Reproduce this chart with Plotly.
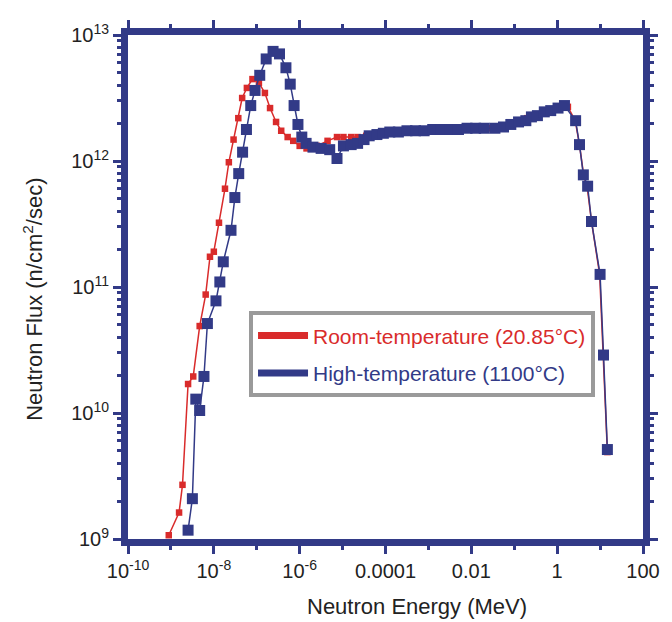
import plotly.graph_objects as go

# ---- data (log10 values) ----
room_log_energy = [-9.05, -8.81, -8.73, -8.60, -8.48, -8.33, -8.19, -8.09, -8.00, -7.88,
                   -7.74, -7.65, -7.54, -7.43, -7.34, -7.23, -7.10, -6.95, -6.81, -6.69,
                   -6.55, -6.43, -6.28, -6.15, -6.00, -5.84, -5.60, -5.35, -5.13, -4.98,
                   -4.80, -4.65, -4.45, -4.25, -4.05, -3.80, -3.55, -3.30, -3.05, -2.80,
                   -2.55, -2.30, -2.05, -1.80, -1.55, -1.30, -1.10, -0.90, -0.70, -0.50,
                   -0.30, -0.10, 0.10, 0.25, 0.42, 0.52, 0.62, 0.70, 0.80, 0.99,
                   1.07, 1.17]
room_log_flux = [9.03, 9.21, 9.43, 10.23, 10.29, 10.69, 10.94, 11.24, 11.28, 11.51,
                 11.78, 11.99, 12.17, 12.34, 12.50, 12.58, 12.65, 12.62, 12.54, 12.42,
                 12.31, 12.24, 12.19, 12.16, 12.12, 12.10, 12.12, 12.16, 12.19, 12.19,
                 12.19, 12.19, 12.20, 12.21, 12.22, 12.23, 12.24, 12.24, 12.24, 12.25,
                 12.25, 12.25, 12.26, 12.26, 12.26, 12.27, 12.28, 12.31, 12.34, 12.36,
                 12.39, 12.41, 12.43, 12.43, 12.32, 12.13, 11.88, 11.79, 11.52, 11.10,
                 10.46, 9.69]

high_log_energy = [-8.60, -8.50, -8.42, -8.33, -8.23, -8.15, -7.95, -7.86, -7.78, -7.60,
                   -7.51, -7.42, -7.33, -7.24, -7.14, -7.04, -6.93, -6.78, -6.62, -6.47,
                   -6.32, -6.22, -6.13, -6.04, -5.95, -5.85, -5.69, -5.50, -5.30, -5.13,
                   -4.98, -4.80, -4.65, -4.50, -4.38, -4.20, -4.05, -3.90, -3.70, -3.50,
                   -3.30, -3.10, -2.90, -2.70, -2.50, -2.30, -2.10, -1.90, -1.70, -1.45,
                   -1.25, -1.08, -0.90, -0.73, -0.60, -0.46, -0.30, -0.15, 0.02, 0.17,
                   0.43, 0.52, 0.61, 0.71, 0.80, 1.00, 1.08, 1.17]
high_log_flux = [9.07, 9.32, 10.11, 10.02, 10.29, 10.71, 10.89, 11.04, 11.20, 11.45,
                 11.71, 11.90, 12.07, 12.25, 12.44, 12.56, 12.68, 12.81, 12.87, 12.85,
                 12.74, 12.61, 12.44, 12.29, 12.19, 12.14, 12.11, 12.10, 12.09, 12.02,
                 12.12, 12.13, 12.14, 12.17, 12.20, 12.21, 12.22, 12.23, 12.23, 12.24,
                 12.24, 12.24, 12.25, 12.25, 12.25, 12.25, 12.26, 12.26, 12.26, 12.26,
                 12.27, 12.29, 12.31, 12.32, 12.35, 12.36, 12.39, 12.40, 12.42, 12.44,
                 12.32, 12.13, 11.89, 11.80, 11.52, 11.10, 10.46, 9.71]

series_names = ["Room-temperature (20.85°C)", "High-temperature (1100°C)"]
series_colors = ["#d92b2b", "#323a87"]

x_tick_vals = [1e-10, 1e-8, 1e-6, 1e-4, 1e-2, 1, 100]
x_tick_text = ["10<sup>-10</sup>", "10<sup>-8</sup>", "10<sup>-6</sup>", "0.0001", "0.01", "1", "100"]
x_minor_vals = [1e-9, 1e-7, 1e-5, 1e-3, 1e-1, 10]
y_tick_vals = [1e9, 1e10, 1e11, 1e12, 1e13]
y_tick_text = ["10<sup>9</sup>", "10<sup>10</sup>", "10<sup>11</sup>", "10<sup>12</sup>", "10<sup>13</sup>"]
y_minor_vals = [m * 10 ** e for e in range(9, 13) for m in range(2, 10)]

x_title = "Neutron Energy (MeV)"
y_title = "Neutron Flux (n/cm<sup>2</sup>/sec)"

room_energy = [10 ** v for v in room_log_energy]
room_flux = [10 ** v for v in room_log_flux]
high_energy = [10 ** v for v in high_log_energy]
high_flux = [10 ** v for v in high_log_flux]

AXC = "#323a87"
FONT = "Liberation Sans, Arial, sans-serif"

fig = go.Figure()
fig.add_trace(go.Scatter(x=room_energy, y=room_flux, mode="lines+markers",
                         line=dict(color=series_colors[0], width=1.5),
                         marker=dict(symbol="square", size=6.5, color=series_colors[0]),
                         showlegend=False, cliponaxis=True))
fig.add_trace(go.Scatter(x=high_energy, y=high_flux, mode="lines+markers",
                         line=dict(color=series_colors[1], width=1.5),
                         marker=dict(symbol="square", size=11, color=series_colors[1]),
                         showlegend=False, cliponaxis=True))
# legend entries
for i in range(2):
    fig.add_trace(go.Scatter(x=[None], y=[None], mode="lines",
                             line=dict(color=series_colors[i], width=7),
                             name="<span style='color:%s'>%s</span>" % (series_colors[i], series_names[i]),
                             legendgroup="g%d" % i, showlegend=True))

axis_common = dict(type="log", showline=True, linecolor=AXC, linewidth=7, mirror="ticks",
                   ticks="outside", ticklen=8, tickwidth=3, tickcolor=AXC, showgrid=False,
                   zeroline=False, tickfont=dict(family=FONT, size=20, color="#222"))

fig.update_xaxes(**axis_common, range=[-10, 2], tickmode="array", tickvals=x_tick_vals,
                 ticktext=x_tick_text,
                 minor=dict(tickmode="array", tickvals=x_minor_vals, ticklen=4, tickwidth=3,
                            tickcolor=AXC, ticks="outside", showgrid=False))
fig.update_yaxes(**axis_common, range=[9, 13], tickmode="array", tickvals=y_tick_vals,
                 ticktext=y_tick_text,
                 minor=dict(tickmode="array", tickvals=y_minor_vals, ticklen=4, tickwidth=3,
                            tickcolor=AXC, ticks="outside", showgrid=False))

fig.add_annotation(text=x_title, xref="paper", yref="paper", x=0.561, y=-0.1345,
                   xanchor="center", yanchor="middle", showarrow=False,
                   font=dict(family=FONT, size=22, color="#222"))
fig.add_annotation(text=y_title, xref="paper", yref="paper", x=-0.186, y=0.475,
                   xanchor="center", yanchor="middle", showarrow=False, textangle=-90,
                   font=dict(family=FONT, size=22, color="#222"))

# the page body adds an 8px margin, so margins are shifted to compensate
fig.update_layout(
    width=664, height=614,
    margin=dict(l=120, r=29, t=18, b=83),
    paper_bgcolor="white", plot_bgcolor="white",
    showlegend=True,
    legend=dict(x=0.235, y=0.4515, xanchor="left", yanchor="top",
                bgcolor="white", bordercolor="#9a9a9a", borderwidth=4,
                font=dict(family=FONT, size=21, color="#222"),
                tracegroupgap=7, itemwidth=50),
)

fig.write_html("out.html")
